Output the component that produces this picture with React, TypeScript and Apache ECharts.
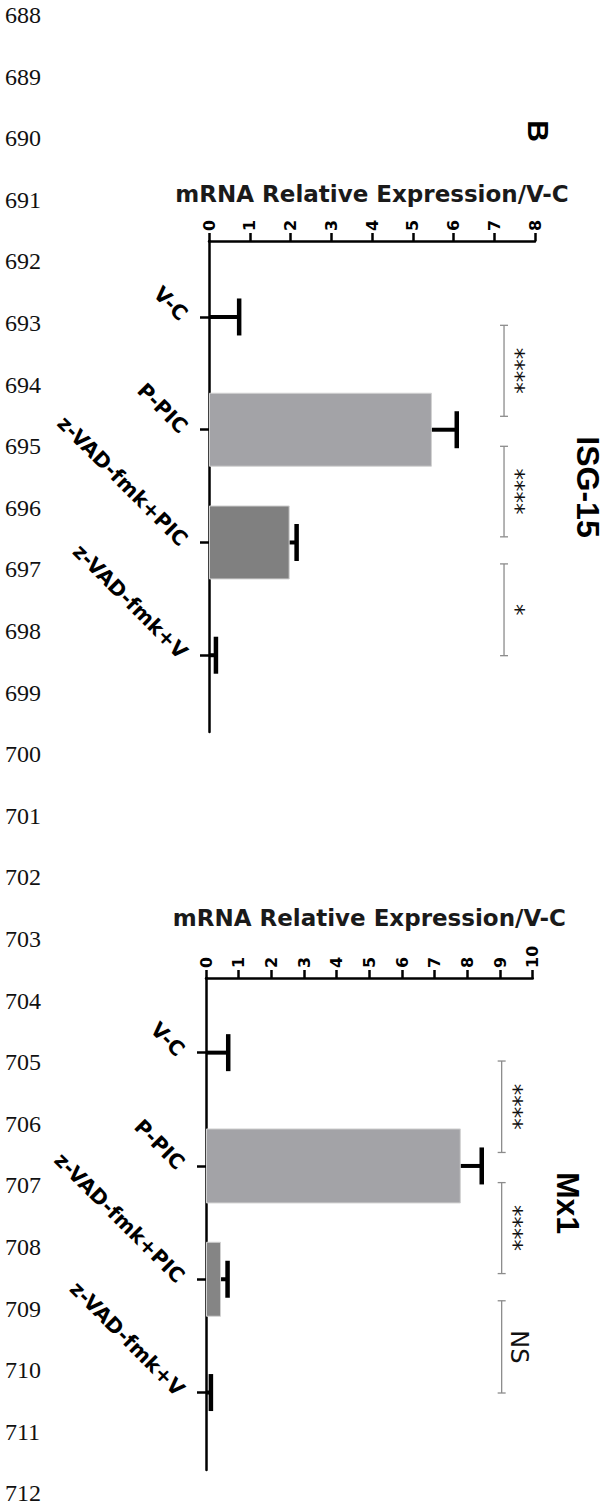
import React, { useEffect, useRef } from "react";
import * as echarts from "echarts";

// ---------- data ----------
const categories = ["V-C", "P-PIC", "z-VAD-fmk+PIC", "z-VAD-fmk+V"];

// ISG-15 panel
const isgMean = [0, 5.47, 1.98, 0];
const isgUpper = [0.74, 6.08, 2.15, 0.17];
const isgSig = ["****", "****", "*"];
const isgMax = 8;

// Mx1 panel
const mxMean = [0, 7.8, 0.46, 0];
const mxUpper = [0.68, 8.44, 0.66, 0.15];
const mxSig = ["****", "****", "NS"];
const mxMax = 10;

// comparison brackets (in category units) and bracket value position
const bracketFrom = [0.074, 1.147, 2.19];
const bracketTo = [0.881, 1.95, 3.004];
const isgBracketAt = 7.24;
const mxBracketAt = 9.05;

const barColors = ["#ffffff", "#a3a3a7", "#808080", "#ffffff"];
const mxBarColors = ["#ffffff", "#a3a3a7", "#858585", "#ffffff"];

const lineNumbers = [
  "688", "689", "690", "691", "692", "693", "694", "695", "696", "697", "698", "699",
  "700", "701", "702", "703", "704", "705", "706", "707", "708", "709", "710", "711", "712",
];

const axisName = "mRNA Relative Expression/V-C";

// ---------- helpers ----------
const SANS = "DejaVu Sans";
const HELV = "Liberation Sans";

function errorSeries(xi: number, yi: number, low: number[], high: number[]) {
  return {
    type: "custom",
    xAxisIndex: xi,
    yAxisIndex: yi,
    z: 4,
    data: low.map((l, i) => [l, high[i], i]),
    encode: { x: [0, 1], y: 2 },
    renderItem: (params: any, api: any) => {
      const i = api.value(2);
      const p0 = api.coord([api.value(0), i]);
      const p1 = api.coord([api.value(1), i]);
      const half = 18.5;
      return {
        type: "group",
        children: [
          {
            type: "line",
            shape: { x1: p0[0], y1: p0[1], x2: p1[0], y2: p1[1] },
            style: { stroke: "#000", lineWidth: 4 },
          },
          {
            type: "line",
            shape: { x1: p1[0], y1: p1[1] - half, x2: p1[0], y2: p1[1] + half },
            style: { stroke: "#000", lineWidth: 4.5 },
          },
        ],
      };
    },
  };
}

function bracketSeries(xi: number, yi: number, at: number, labels: string[]) {
  return {
    type: "custom",
    xAxisIndex: xi,
    yAxisIndex: yi,
    z: 4,
    data: labels.map(() => [at, 0]),
    encode: { x: 0, y: 1 },
    renderItem: (params: any, api: any) => {
      const k = params.dataIndex;
      const base = api.coord([api.value(0), 0]);
      const band = api.size([0, 1])[1];
      const x = base[0];
      const y1 = base[1] + bracketFrom[k] * band;
      const y2 = base[1] + bracketTo[k] * band;
      const lab = labels[k];
      const isStar = lab.indexOf("*") >= 0;
      const col = "#8c8c8c";
      return {
        type: "group",
        children: [
          { type: "line", shape: { x1: x, y1, x2: x, y2 }, style: { stroke: col, lineWidth: 1.3 } },
          { type: "line", shape: { x1: x - 4, y1, x2: x + 4, y2: y1 }, style: { stroke: col, lineWidth: 1.3 } },
          { type: "line", shape: { x1: x - 4, y1: y2, x2: x + 4, y2: y2 }, style: { stroke: col, lineWidth: 1.3 } },
          {
            type: "text",
            x: x + (isStar ? 12 : 17),
            y: (y1 + y2) / 2,
            rotation: -Math.PI / 2,
            style: {
              text: lab,
              fontFamily: SANS,
              fontSize: isStar ? 23 : 24,
              fill: "#111",
              align: "center",
              verticalAlign: "middle",
            },
          },
        ],
      };
    },
  };
}

function valueAxis(gridIndex: number, max: number, nameGap: number) {
  return {
    gridIndex,
    type: "value",
    position: "top",
    min: 0,
    max,
    interval: 1,
    axisLine: { show: true, onZero: false, lineStyle: { color: "#000", width: 2.5 } },
    axisTick: { show: true, length: 8, lineStyle: { color: "#000", width: 2.5 } },
    axisLabel: {
      rotate: -90,
      margin: 10,
      fontFamily: SANS,
      fontWeight: "bold",
      fontSize: 16,
      color: "#000",
    },
    splitLine: { show: false },
    name: axisName,
    nameLocation: "middle",
    nameGap,
    nameTextStyle: { fontFamily: SANS, fontWeight: "bold", fontSize: 23, color: "#1a1a1a" },
  };
}

function hiddenValueAxis(gridIndex: number, max: number) {
  return { gridIndex, type: "value", min: 0, max, show: false };
}

function frameCatAxis(gridIndex: number) {
  return {
    gridIndex,
    type: "category",
    data: categories,
    inverse: true,
    axisLine: { show: true, onZero: false, lineStyle: { color: "#000", width: 2.5 } },
    axisTick: { show: false },
    axisLabel: { show: false },
    splitLine: { show: false },
  };
}

function dataCatAxis(gridIndex: number) {
  return {
    gridIndex,
    type: "category",
    data: categories,
    inverse: true,
    axisLine: { show: false },
    axisTick: { show: true, alignWithLabel: true, length: 9, lineStyle: { color: "#000", width: 2.5 } },
    axisLabel: {
      rotate: -45,
      margin: 25,
      fontFamily: SANS,
      fontWeight: "bold",
      fontSize: 20.5,
      color: "#000",
    },
    splitLine: { show: false },
  };
}

function barSeries(xi: number, yi: number, vals: number[], colors: string[], width: number) {
  return {
    type: "bar",
    xAxisIndex: xi,
    yAxisIndex: yi,
    barWidth: width,
    z: 2,
    data: vals.map((v, i) => ({
      value: v,
      itemStyle: {
        color: colors[i],
        borderColor: v > 0 ? "#d2d2d2" : "rgba(0,0,0,0)",
        borderWidth: v > 0 ? 1 : 0,
      },
    })),
  };
}

export default function App() {
  const ref = useRef<HTMLDivElement>(null);

  useEffect(() => {
    if (!ref.current) return;
    const chart = echarts.init(ref.current, undefined, { renderer: "svg" });

    const lineNumTop = 15;
    const lineNumStep = 61.6;

    const graphics: any[] = lineNumbers.map((t, i) => ({
      type: "text",
      x: 5,
      y: lineNumTop + i * lineNumStep,
      style: {
        text: t,
        fontFamily: "Liberation Serif",
        fontSize: 24,
        fill: "#111",
        align: "left",
        verticalAlign: "middle",
      },
    }));
    graphics.push(
      {
        type: "text",
        x: 538,
        y: 131,
        rotation: -Math.PI / 2,
        style: { text: "B", fontFamily: HELV, fontWeight: "bold", fontSize: 30, fill: "#000", align: "center", verticalAlign: "middle" },
      },
      {
        type: "text",
        x: 588,
        y: 487,
        rotation: -Math.PI / 2,
        style: { text: "ISG-15", fontFamily: HELV, fontWeight: "bold", fontSize: 32, fill: "#000", align: "center", verticalAlign: "middle" },
      },
      {
        type: "text",
        x: 568,
        y: 1203,
        rotation: -Math.PI / 2,
        style: { text: "Mx1", fontFamily: HELV, fontWeight: "bold", fontSize: 32, fill: "#000", align: "center", verticalAlign: "middle" },
      }
    );

    chart.setOption({
      animation: false,
      backgroundColor: "#ffffff",
      grid: [
        { left: 209, top: 241, width: 326, height: 491 },
        { left: 209, top: 260.6, width: 326, height: 451 },
        { left: 206, top: 978, width: 326.7, height: 492 },
        { left: 206, top: 996, width: 326.7, height: 453.2 },
      ],
      xAxis: [
        valueAxis(0, isgMax, 36),
        hiddenValueAxis(1, isgMax),
        valueAxis(2, mxMax, 49),
        hiddenValueAxis(3, mxMax),
      ],
      yAxis: [frameCatAxis(0), dataCatAxis(1), frameCatAxis(2), dataCatAxis(3)],
      series: [
        barSeries(1, 1, isgMean, barColors, 74),
        errorSeries(1, 1, isgMean, isgUpper),
        bracketSeries(1, 1, isgBracketAt, isgSig),
        barSeries(3, 3, mxMean, mxBarColors, 75),
        errorSeries(3, 3, mxMean, mxUpper),
        bracketSeries(3, 3, mxBracketAt, mxSig),
      ],
      graphic: graphics,
    });

    return () => chart.dispose();
  }, []);

  return (
    <div
      ref={ref}
      style={{ position: "absolute", left: 0, top: 0, width: 613, height: 1506 }}
    />
  );
}
